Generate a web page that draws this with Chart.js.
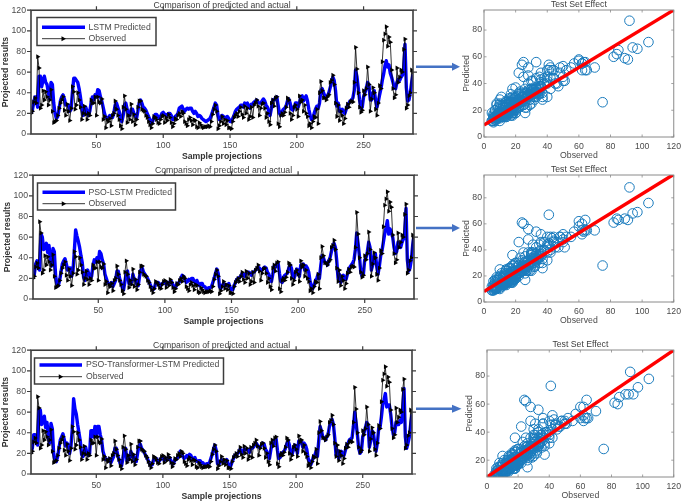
<!DOCTYPE html>
<html>
<head>
<meta charset="utf-8">
<script src="https://cdn.jsdelivr.net/npm/chart.js@4"></script>
<style>
    body { margin: 0; background: #fff; }
    canvas { position: absolute; }
</style>
</head>
<body>
<canvas id="line1"></canvas>
<canvas id="line2"></canvas>
<canvas id="line3"></canvas>
<canvas id="scatter1"></canvas>
<canvas id="scatter2"></canvas>
<canvas id="scatter3"></canvas>
<script>
const observed = [
    20,22,31,35,30,75,64,25,28,42, 33,41,36,28,33,43,22,11,12,13,
    18,25,30,33,36,23,18,29,22,13, 25,46,41,24,28,40,33,26,14,20,
    27,19,14,20,18,33,30,30,36,18, 36,31,30,34,14,17,6,14,12,15,
    8,18,20,32,24,18,14,8,5,26, 37,24,11,18,14,29,12,19,9,14,
    26,32,32,24,23,22,18,16,12,9, 6,10,17,16,14,11,10,14,17,18,
    11,16,13,19,16,11,7,10,15,14, 18,20,17,22,20,12,10,8,14,16,
    13,9,14,13,7,6,11,9,7,6, 7,7,7,8,7,12,19,24,28,22,
    5,8,12,17,10,14,9,13,6,6, 5,12,16,18,20,17,22,26,19,16,
    27,20,25,14,17,26,16,28,30,33, 27,18,25,29,30,25,16,20,12,9,
    30,33,27,35,36,10,7,18,20,18, 21,26,35,33,20,14,18,26,28,24,
    17,37,31,33,22,28,20,17,8,10, 6,12,17,16,24,10,40,51,42,35,
    35,33,36,38,50,52,57,48,30,17, 28,13,22,18,10,15,25,29,26,31,
    32,31,50,84,63,40,26,21,23,42, 38,44,65,48,22,34,45,40,24,18,
    30,47,44,70,91,97,104,85,94,89, 62,44,35,38,64,50,55,62,60,82,
    92,25,28,37,40,62,60
];
const lstmPredicted = [
    20,23,30,36,36,26,56,56,46,52, 56,50,48,40,34,50,48,30,20,15,
    17,24,32,36,38,34,28,28,28,22, 24,40,54,54,52,50,44,36,26,18,
    22,26,22,18,22,30,36,33,38,36, 43,42,36,32,26,20,16,15,16,18,
    16,16,20,28,30,26,22,16,12,18, 28,30,24,18,18,24,24,20,18,15,
    22,30,33,30,26,25,23,20,17,14, 11,12,16,19,19,17,15,17,20,21,
    19,19,18,20,20,18,14,14,17,18, 20,25,26,27,24,22,24,25,24,25,
    25,22,20,22,20,17,18,17,15,14, 13,12,13,14,15,18,22,26,30,28,
    18,14,15,18,17,16,16,17,15,12, 12,15,18,22,24,25,26,28,28,26,
    30,29,30,27,25,29,29,31,32,33, 31,30,30,32,34,32,28,26,22,18,
    25,33,33,35,36,28,20,18,22,24, 25,27,32,34,30,24,23,26,30,30,
    26,30,36,37,32,35,37,32,24,18, 14,15,20,24,27,25,30,42,44,40,
    37,35,37,40,45,50,55,52,42,27, 30,22,22,24,21,20,24,28,30,32,
    33,35,42,62,56,45,33,25,26,36, 40,44,50,48,33,33,40,42,33,26,
    31,38,44,52,58,66,71,65,67,59, 55,50,45,44,50,53,52,55,57,60,
    87,45,32,33,40,50,58
];
const psoLstmPredicted = [
    21,24,34,37,36,28,63,60,48,50, 54,45,52,38,32,49,46,22,14,13,
    18,26,34,37,39,34,28,30,30,22, 27,46,67,61,56,50,42,35,21,18,
    24,28,24,20,22,32,38,36,40,36, 46,44,38,34,24,20,16,15,15,16,
    12,15,18,27,27,20,16,11,9,17, 26,27,15,15,16,24,19,18,14,13,
    22,28,30,26,24,22,20,17,14,11, 9,10,15,16,16,14,13,15,16,17,
    14,16,15,17,17,14,11,11,15,15, 17,20,23,22,19,16,17,19,18,20,
    20,17,15,18,15,13,15,15,12,12, 10,10,11,11,12,16,20,25,29,25,
    12,10,13,15,13,14,13,15,11,9, 9,13,16,19,20,21,22,25,23,22,
    25,26,26,25,23,26,26,28,29,31, 30,28,28,30,31,30,26,24,20,17,
    24,32,31,34,35,25,17,16,21,23, 24,25,30,33,30,22,20,25,29,28,
    22,33,33,34,28,32,30,26,17,13, 10,13,18,20,24,20,32,42,40,36,
    35,33,37,40,46,50,54,50,37,20, 24,16,20,23,19,19,24,29,31,33,
    35,38,48,64,54,42,27,22,24,38, 40,46,55,50,28,33,42,44,32,24,
    32,42,47,55,63,69,76,63,68,64, 60,50,44,46,55,52,50,55,58,61,
    88,38,27,30,38,52,62
];
const psoTransformerPredicted = [
    21,25,38,38,33,28,63,62,48,52, 56,45,50,36,30,49,44,20,13,12,
    17,25,33,36,39,33,27,30,28,20, 27,44,73,63,58,48,40,32,19,17,
    22,26,20,18,20,42,42,36,46,36, 46,46,38,33,22,18,14,14,14,15,
    11,14,17,25,25,19,14,10,8,15, 24,25,13,14,15,22,17,17,12,12,
    20,27,29,25,23,21,18,16,13,10, 8,9,14,15,15,13,12,14,16,16,
    13,15,14,16,16,13,10,10,14,14, 16,18,22,20,17,15,16,18,17,19,
    18,15,14,16,13,12,13,13,11,11, 9,9,10,10,11,15,19,24,28,23,
    10,9,12,14,12,13,12,14,10,8, 8,12,15,18,19,20,21,24,22,21,
    24,24,24,23,21,25,25,26,28,30, 28,26,26,28,30,29,24,22,18,15,
    23,30,29,33,34,23,15,16,20,21, 22,25,29,32,28,20,19,24,28,27,
    20,32,30,31,26,30,28,24,15,12, 9,12,17,18,22,17,32,46,42,36,
    35,33,36,38,46,50,53,48,35,18, 23,15,18,22,18,18,23,28,30,33,
    34,35,46,60,50,38,25,20,22,36, 40,45,50,48,26,32,42,40,30,22,
    30,44,45,55,67,72,78,65,67,67, 58,46,38,40,50,48,48,52,50,61,
    83,36,25,30,36,48,58
];
const sampleTicks = [50, 100, 150, 200, 250];
const resultTicks = [0, 20, 40, 60, 80, 100, 120];
const observedTicks = [0, 20, 40, 60, 80, 100, 120];
const predictedTicks1 = [0, 20, 40, 60, 80];
const predictedTicks3 = [20, 40, 60, 80];
const fitX = [0, 120];
const fitY1 = [9, 95];
const fitY2 = [8, 98];
const fitY3 = [8, 98.5];

const FONT = '"Liberation Sans", Arial, sans-serif';
const TEXT_COLOR = '#4a4a4a';
const DARK = '#3c3c3c';

function toPoints(xs, ys) {
    return xs.map((x, i) => ({ x: x, y: ys[i] }));
}

function placeCanvas(id, left, top, width, height) {
    const canvas = document.getElementById(id);
    canvas.width = width;
    canvas.height = height;
    canvas.style.left = left + 'px';
    canvas.style.top = top + 'px';
    return canvas;
}

// box round the plot with tick marks on all four sides (MATLAB "box on")
const boxPlugin = {
    id: 'boxPlugin',
    afterDatasetsDraw(chart, args, opts) {
        const { ctx, chartArea: a, scales } = chart;
        const dir = opts.tickOut ? 1 : -1;
        ctx.save();
        ctx.strokeStyle = opts.color;
        ctx.lineWidth = opts.lineWidth;
        ctx.strokeRect(a.left, a.top, a.right - a.left, a.bottom - a.top);
        ctx.lineWidth = opts.tickWidth;
        ctx.beginPath();
        scales.x.ticks.forEach(t => {
            const px = scales.x.getPixelForValue(t.value);
            ctx.moveTo(px, a.bottom);
            ctx.lineTo(px, a.bottom + dir * opts.tickLen);
            ctx.moveTo(px, a.top);
            ctx.lineTo(px, a.top - dir * opts.tickLen);
        });
        scales.y.ticks.forEach(t => {
            const py = scales.y.getPixelForValue(t.value);
            ctx.moveTo(a.left, py);
            ctx.lineTo(a.left - dir * opts.tickLen, py);
            ctx.moveTo(a.right, py);
            ctx.lineTo(a.right + dir * opts.tickLen, py);
        });
        ctx.stroke();
        ctx.restore();
    }
};

// legend box inside the plot, plus the arrow pointing at the scatter panel
const panelExtras = {
    id: 'panelExtras',
    afterDraw(chart, args, opts) {
        const ctx = chart.ctx;
        const b = opts.box;
        ctx.save();
        ctx.fillStyle = '#fff';
        ctx.strokeStyle = DARK;
        ctx.lineWidth = 1.5;
        ctx.fillRect(b.x, b.y, b.w, b.h);
        ctx.strokeRect(b.x, b.y, b.w, b.h);

        ctx.strokeStyle = '#0000ff';
        ctx.lineWidth = 3.5;
        ctx.beginPath();
        ctx.moveTo(b.lineX0, b.row1);
        ctx.lineTo(b.lineX1, b.row1);
        ctx.stroke();

        ctx.strokeStyle = '#000';
        ctx.lineWidth = 0.8;
        ctx.beginPath();
        ctx.moveTo(b.lineX0, b.row2);
        ctx.lineTo(b.lineX1, b.row2);
        ctx.stroke();
        const mid = (b.lineX0 + b.lineX1) / 2;
        ctx.fillStyle = '#000';
        ctx.beginPath();
        ctx.moveTo(mid - 2, b.row2 - 2.5);
        ctx.lineTo(mid + 2.5, b.row2);
        ctx.lineTo(mid - 2, b.row2 + 2.5);
        ctx.closePath();
        ctx.fill();

        ctx.fillStyle = TEXT_COLOR;
        ctx.font = '8.7px ' + FONT;
        ctx.textBaseline = 'middle';
        ctx.textAlign = 'left';
        ctx.fillText(opts.label, b.textX, b.row1);
        ctx.fillText('Observed', b.textX, b.row2);

        ctx.strokeStyle = '#4472c4';
        ctx.fillStyle = '#4472c4';
        ctx.lineWidth = 2.6;
        ctx.beginPath();
        ctx.moveTo(416, opts.arrowY);
        ctx.lineTo(454, opts.arrowY);
        ctx.stroke();
        ctx.beginPath();
        ctx.moveTo(452, opts.arrowY - 4);
        ctx.lineTo(opts.arrowTip, opts.arrowY);
        ctx.lineTo(452, opts.arrowY + 4);
        ctx.closePath();
        ctx.fill();
        ctx.restore();
    }
};

function fixedSize(size) {
    return function (scale) {
        if (scale.isHorizontal()) {
            scale.height = size;
        } else {
            scale.width = size;
        }
    };
}

function useTicks(values) {
    return function (scale) {
        scale.ticks = values.map(v => ({ value: v }));
    };
}

function axisTitle(text, bold, padding) {
    return {
        display: true,
        text: text,
        color: bold ? '#333' : TEXT_COLOR,
        font: { family: FONT, size: 8.7, weight: bold ? 'bold' : 'normal' },
        padding: padding
    };
}

function topTitle(text) {
    return {
        display: true,
        text: text,
        color: DARK,
        fullSize: false,
        padding: 0,
        font: { family: FONT, size: 8.7, weight: 'normal', lineHeight: 1.15 }
    };
}

function tickFont(padding) {
    return {
        color: TEXT_COLOR,
        padding: padding,
        autoSkip: false,
        maxRotation: 0,
        font: { family: FONT, size: 8.7 }
    };
}

const noGrid = { display: false, drawTicks: false };

function lineChart(id, top, plotLeft, plotRight, predicted, label, box, arrowY, arrowTip, yTitlePad) {
    const width = 465;
    new Chart(placeCanvas(id, 0, top, width, 162), {
        type: 'line',
        data: {
            datasets: [
                {
                    label: 'Observed',
                    data: toPoints(observed.map((v, i) => i + 1), observed),
                    borderColor: '#000',
                    backgroundColor: '#000',
                    borderWidth: 0.8,
                    pointStyle: 'triangle',
                    pointRotation: 90,
                    pointRadius: 2.8,
                    pointBorderWidth: 0,
                    order: 1
                },
                {
                    label: label,
                    data: toPoints(predicted.map((v, i) => i + 1), predicted),
                    borderColor: '#0000ff',
                    borderWidth: 3.4,
                    borderJoinStyle: 'round',
                    pointRadius: 0,
                    order: 2
                }
            ]
        },
        options: {
            responsive: false,
            animation: false,
            devicePixelRatio: 1,
            layout: { autoPadding: false, padding: { right: width - plotRight } },
            scales: {
                x: {
                    type: 'linear',
                    min: 1,
                    max: 287,
                    grid: noGrid,
                    border: { display: false },
                    afterFit: fixedSize(28),
                    afterBuildTicks: useTicks(sampleTicks),
                    ticks: tickFont(6),
                    title: axisTitle('Sample projections', true, 0)
                },
                y: {
                    min: 0,
                    max: 120,
                    grid: noGrid,
                    border: { display: false },
                    afterFit: fixedSize(plotLeft),
                    afterBuildTicks: useTicks(resultTicks),
                    ticks: tickFont(5),
                    title: axisTitle('Projected results', true, { top: yTitlePad, bottom: 0 })
                }
            },
            plugins: {
                legend: { display: false },
                tooltip: { enabled: false },
                title: topTitle('Comparison of predicted and actual'),
                boxPlugin: { color: DARK, lineWidth: 1.6, tickWidth: 1.2, tickLen: 4, tickOut: true },
                panelExtras: { label: label, box: box, arrowY: arrowY, arrowTip: arrowTip }
            }
        },
        plugins: [boxPlugin, panelExtras]
    });
}

function scatterChart(id, top, plotLeft, plotRight, plotHeight, predicted, fitY, yMin, yMax, yTicks, yTitlePad) {
    const left = 461;
    const width = 224;
    new Chart(placeCanvas(id, left, top, width, 10 + plotHeight + 24), {
        type: 'scatter',
        data: {
            datasets: [
                {
                    type: 'line',
                    label: 'Fit',
                    data: toPoints(fitX, fitY),
                    borderColor: '#ff0000',
                    borderWidth: 3.4,
                    pointRadius: 0,
                    order: 1
                },
                {
                    label: 'Predicted',
                    data: toPoints(observed, predicted),
                    borderColor: '#1a7bbd',
                    backgroundColor: 'rgba(0,0,0,0)',
                    pointRadius: 4.8,
                    pointBorderWidth: 1,
                    order: 2
                }
            ]
        },
        options: {
            responsive: false,
            animation: false,
            devicePixelRatio: 1,
            layout: { autoPadding: false, padding: { right: left + width - plotRight } },
            scales: {
                x: {
                    type: 'linear',
                    min: 0,
                    max: 120,
                    grid: noGrid,
                    border: { display: false },
                    afterFit: fixedSize(24),
                    afterBuildTicks: useTicks(observedTicks),
                    ticks: tickFont(4),
                    title: axisTitle('Observed', false, 0)
                },
                y: {
                    min: yMin,
                    max: yMax,
                    grid: noGrid,
                    border: { display: false },
                    afterFit: fixedSize(plotLeft - left),
                    afterBuildTicks: useTicks(yTicks),
                    ticks: tickFont(2),
                    title: axisTitle('Predicted', false, { top: yTitlePad, bottom: 0 })
                }
            },
            plugins: {
                legend: { display: false },
                tooltip: { enabled: false },
                title: topTitle('Test Set Effect'),
                boxPlugin: { color: '#8a8a8a', lineWidth: 1, tickWidth: 0.8, tickLen: 2.5, tickOut: false }
            }
        },
        plugins: [boxPlugin]
    });
}

lineChart('line1', 0, 31, 413, lstmPredicted, 'LSTM Predicted',
    { x: 37, y: 17.5, w: 119, h: 28, lineX0: 42, lineX1: 85, textX: 88.5, row1: 27.3, row2: 38.7 }, 66.7, 460, 0);
lineChart('line2', 165, 33, 414, psoLstmPredicted, 'PSO-LSTM Predicted',
    { x: 37.5, y: 18, w: 138, h: 27, lineX0: 42.5, lineX1: 85, textX: 88.5, row1: 27.3, row2: 38.7 }, 63, 460, 2);
lineChart('line3', 340, 31, 412, psoTransformerPredicted, 'PSO-Transformer-LSTM Predicted',
    { x: 34.5, y: 18, w: 189, h: 26, lineX0: 39.5, lineX1: 82, textX: 86, row1: 25, row2: 36.7 }, 68.7, 461.5, 0);

scatterChart('scatter1', 0, 484, 675, 127, lstmPredicted, fitY1, 0, 95, predictedTicks1, 0);
scatterChart('scatter2', 165, 484, 675, 127, psoLstmPredicted, fitY2, 0, 97.5, predictedTicks1, 0);
scatterChart('scatter3', 340, 487, 677, 127, psoTransformerPredicted, fitY3, 8, 98.6, predictedTicks3, 3);
</script>
</body>
</html>
